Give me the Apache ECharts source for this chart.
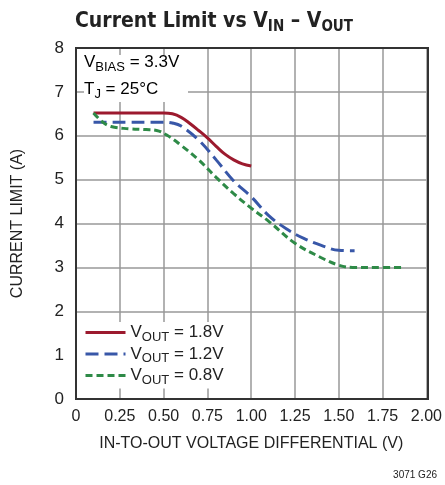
<!DOCTYPE html>
<html><head><meta charset="utf-8">
<script src="https://cdn.jsdelivr.net/npm/echarts@6/dist/echarts.min.js"></script>
<style>html,body{margin:0;padding:0;background:#fff}#c{width:445px;height:485px}</style>
</head><body><div id="c"></div>
<script>
const xTicks = ['0','0.25','0.50','0.75','1.00','1.25','1.50','1.75','2.00'];
const yTicks = ['0','1','2','3','4','5','6','7','8'];
const v18 = [0.10,0.20,0.30,0.40,0.50,0.55,0.60,0.65,0.70,0.75,0.80,0.85,0.90,0.95,1.00];
const i18 = [6.52,6.52,6.52,6.52,6.52,6.50,6.42,6.28,6.12,5.95,5.76,5.58,5.45,5.36,5.31];
const v12 = [0.10,0.20,0.30,0.40,0.50,0.55,0.60,0.70,0.80,0.90,1.00,1.10,1.20,1.30,1.40,1.50,1.59];
const i12 = [6.31,6.31,6.31,6.31,6.31,6.29,6.22,5.90,5.45,4.97,4.61,4.18,3.88,3.66,3.50,3.39,3.38];
const v08 = [0.10,0.15,0.20,0.30,0.40,0.46,0.52,0.60,0.70,0.80,0.90,1.00,1.10,1.25,1.40,1.50,1.58,1.70,1.87];
const i08 = [6.52,6.32,6.21,6.16,6.14,6.12,6.01,5.78,5.45,5.05,4.68,4.35,4.05,3.55,3.22,3.05,3.00,3.00,3.00];
const seriesNames = ['1.8V','1.2V','0.8V'];
const colors = ['#9c1a2e','#3857a8','#2e8a47'];
const FONT = '"Liberation Sans",Arial,sans-serif';
const TFONT = '"DejaVu Sans Condensed","Liberation Sans",sans-serif';
const GRID = '#999';
const NOGRID = 'rgba(0,0,0,0)';
const chart = echarts.init(document.getElementById('c'));
const pair = (xs, ys) => xs.map((x, k) => [x, ys[k]]);
const sub = {
  t: {fontFamily: FONT, fontSize: 17, color: '#222'},
  s: {fontFamily: FONT, fontSize: 13, color: '#222', padding: [9, 0, 0, 0]}
};
chart.setOption({
  animation: false,
  title: {
    text: '{t|Current Limit vs V}{s|IN}{t| – V}{s|OUT}',
    left: 70, top: 4,
    textStyle: {rich: {
      t: {fontFamily: TFONT, fontSize: 21, fontWeight: 'bold', color: '#222'},
      s: {fontFamily: TFONT, fontSize: 15, fontWeight: 'bold', color: '#222', padding: [11, 0, 0, 0]}
    }}
  },
  grid: {left: 76, right: 17, top: 48, bottom: 86},
  xAxis: {
    type: 'value', min: 0, max: 2, interval: 0.25,
    name: 'IN-TO-OUT VOLTAGE DIFFERENTIAL (V)', nameLocation: 'middle', nameGap: 37,
    nameTextStyle: {fontFamily: FONT, fontSize: 16, color: '#222'},
    axisLine: {show: false}, axisTick: {show: false},
    axisLabel: {fontFamily: FONT, fontSize: 16, color: '#222', margin: 10,
      formatter: (v) => xTicks[Math.round(v / 0.25)]},
    splitLine: {lineStyle: {color: GRID, width: 1.5}}
  },
  yAxis: {
    type: 'value', min: 0, max: 8, interval: 1,
    name: 'CURRENT LIMIT (A)', nameLocation: 'middle', nameGap: 50,
    nameTextStyle: {fontFamily: FONT, fontSize: 16, color: '#222'},
    axisLine: {show: false}, axisTick: {show: false},
    axisLabel: {fontFamily: FONT, fontSize: 17, color: '#222', margin: 12,
      formatter: (v) => yTicks[Math.round(v)]},
    splitLine: {lineStyle: {color: [GRID, NOGRID, GRID, GRID, GRID, GRID, GRID, GRID, GRID], width: 1.5}}
  },
  legend: {
    orient: 'vertical', left: 80, top: 322, itemGap: 2,
    itemWidth: 40, itemHeight: 18,
    backgroundColor: '#fff', padding: [2, 6, 2, 4],
    itemStyle: {opacity: 0},
    lineStyle: {width: 3},
    formatter: (n) => '{t|V}{s|OUT}{t| = ' + n + '}',
    textStyle: {rich: sub},
    data: seriesNames
  },
  graphic: [
    {type: 'rect', shape: {x: 84, y: 55, width: 104, height: 47}, style: {fill: '#fff'}, z: 5},
    {type: 'text', left: 84, top: 54, z: 6, style: {
      text: '{t|V}{s|BIAS}{t| = 3.3V}', rich: sub}},
    {type: 'text', left: 84, top: 81, z: 6, style: {
      text: '{t|T}{s|J}{t| = 25°C}', rich: sub}},
    {type: 'rect', shape: {x: 76, y: 48, width: 352, height: 351},
      style: {fill: 'none', stroke: '#333', lineWidth: 2}, z: 10},
    {type: 'text', right: 8, top: 470, style: {text: '3071 G26', font: '10px ' + FONT, fill: '#222'}}
  ],
  series: [
    {name: '1.8V', type: 'line', data: pair(v18, i18), smooth: 0.4, symbol: 'none',
      lineStyle: {color: colors[0], width: 3, type: 'solid'}, itemStyle: {color: colors[0]}},
    {name: '1.2V', type: 'line', data: pair(v12, i12), smooth: 0.4, symbol: 'none',
      lineStyle: {color: colors[1], width: 3, type: [13, 6]}, itemStyle: {color: colors[1]}},
    {name: '0.8V', type: 'line', data: pair(v08, i08), smooth: 0.4, symbol: 'none',
      lineStyle: {color: colors[2], width: 3, type: [7, 4]}, itemStyle: {color: colors[2]}}
  ]
});
</script></body></html>
